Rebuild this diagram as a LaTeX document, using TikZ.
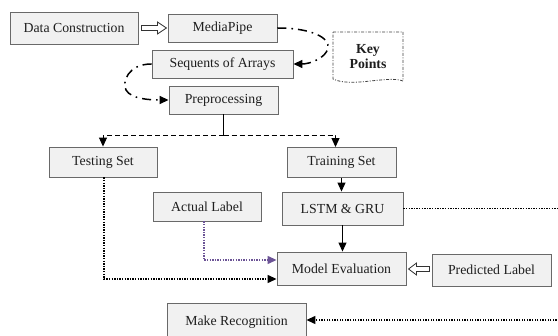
\documentclass[tikz,border=0pt]{standalone}
\usepackage{fontspec}
\setmainfont{Liberation Serif}
\usetikzlibrary{arrows.meta,calc}
\definecolor{boxfill}{RGB}{241,241,241}
\definecolor{boxline}{RGB}{105,105,105}
\definecolor{txt}{RGB}{30,30,30}
\definecolor{purp}{RGB}{108,84,150}
\tikzset{
  box/.style={draw=boxline, fill=boxfill, line width=0.9pt, text=txt,
    font=\fontsize{13.8}{15}\selectfont, inner sep=0pt},
  tip/.style={-{Triangle[length=9pt,width=8pt]}},
  dots/.style={line width=1.3pt, dash pattern=on 1.3pt off 1.3pt},
  dashdot/.style={line width=1.5pt, dash pattern=on 9pt off 5pt on 1.6pt off 5pt},
  flow/.style={line width=1pt, black},
  hol/.style={draw=black!80, fill=white, line width=0.8pt},
  kpline/.style={draw=black!75, line width=0.8pt, dash pattern=on 3pt off 1.5pt on 1pt off 1.5pt},
}
\begin{document}
\begin{tikzpicture}[x=1pt, y=-1pt]
\path[use as bounding box, clip] (0,0) rectangle (558,336);
% nodes
\node[box, minimum width=128pt, minimum height=32pt] (dc) at (74,28) {Data Construction};
\node[box, minimum width=109pt, minimum height=28pt] (mp) at (222.5,28) {MediaPipe};
\node[box, minimum width=141pt, minimum height=28pt] (seq) at (222.5,64) {Sequents of Arrays};
\node[box, minimum width=109pt, minimum height=28pt] (pre) at (223.5,100) {Preprocessing};
\node[font=\fontsize{13.8}{15}\selectfont\bfseries, text=txt, align=center, inner sep=0pt] (kp) at (368,56.5) {Key\\Points};
\node[box, minimum width=108pt, minimum height=30pt] (test) at (103,162) {Testing Set};
\node[box, minimum width=109pt, minimum height=30pt] (train) at (341.5,162.5) {Training Set};
\node[box, minimum width=108pt, minimum height=29pt] (act) at (207,206.5) {Actual Label};
\node[box, minimum width=121pt, minimum height=33pt] (lstm) at (342.5,208.5) {LSTM \& GRU};
\node[box, minimum width=129pt, minimum height=33pt] (me) at (341.5,268.5) {Model Evaluation};
\node[box, minimum width=119pt, minimum height=32pt] (pl) at (491.5,270) {Predicted Label};
\node[box, minimum width=139pt, minimum height=38pt] (mr) at (236.5,322) {Make Recognition};
% key points outline
\draw[kpline] ($(kp)+(-35,-24.5)$) -- ($(kp)+(35,-24.5)$) -- ($(kp)+(35,24.5)$)
  .. controls ($(kp)+(20,18.5)$) and ($(kp)+(-16,31.5)$) .. ($(kp)+(-35,22.5)$) -- cycle;
% hollow arrows
\draw[hol] ($(dc.east)+(3,-2.5)$) -- ++(16,0) -- ++(0,-3.5) -- ++(9,6) -- ++(-9,6) -- ++(0,-3.5) -- ++(-16,0) -- cycle;
\draw[hol] ($(pl.west)+(-2,-3.5)$) -- ++(-13,0) -- ++(0,-3.5) -- ++(-8,6) -- ++(8,6) -- ++(0,-3.5) -- ++(13,0) -- cycle;
% curved dash-dot connectors
\draw[dashdot, tip] (mp.east) .. controls (312,28) and (330,38) .. (328,48)
  .. controls (326,58) and (310,64) .. (seq.east);
\draw[dashdot, tip] (seq.west) .. controls (128,64) and (122,82) .. (126,90)
  .. controls (131,99) and (150,100) .. (pre.west);
% split
\draw[flow] (pre.south) -- ($(pre.south)+(0,21)$) coordinate (split);
\draw[flow, dash pattern=on 5pt off 3pt, tip] (split) -| (test.north);
\draw[flow, dash pattern=on 5pt off 3pt, tip] (split) -| ($(train.north)+(-6,0)$);
% solid arrows
\draw[flow, tip] (train.south) -- (train.south |- lstm.north);
\draw[flow, tip] (lstm.south) -- (lstm.south |- me.north);
% dotted connectors
\draw[dots, purp, tip] ($(act.south)+(-3,0)$) |- ($(me.west)+(0,-8.5)$);
\draw[dots, tip] ($(test.south)+(1,0)$) |- ($(me.west)+(0,10.5)$);
\coordinate (far1) at (566,208.5);
\draw[dots, tip] (lstm.east) -- (far1) |- ($(mr.east)+(0,-2)$);
\end{tikzpicture}
\end{document}
